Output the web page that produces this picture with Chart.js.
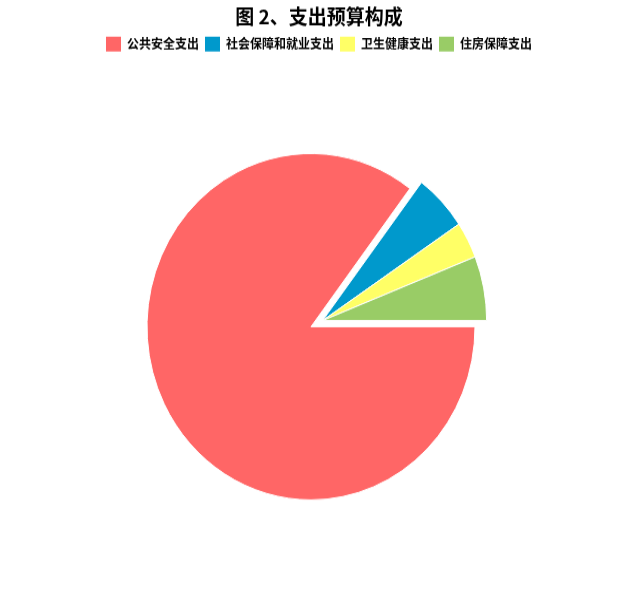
<!DOCTYPE html>
<html lang="zh">
<head>
<meta charset="utf-8">
<title>图 2、支出预算构成</title>
<script src="https://cdn.jsdelivr.net/npm/chart.js@4.4.1/dist/chart.umd.min.js"></script>
<style>
    html, body { margin: 0; padding: 0; background: #fff; overflow: hidden; }
    /* the reference is drawn slightly taller than wide, so stretch the canvas */
    #wrap { position: relative; width: 638px; height: 572px; transform: scaleY(1.0559); transform-origin: 0 0; }
</style>
</head>
<body>
<div id="wrap"><canvas id="chart"></canvas></div>
<script>
    // 数据
    const categories = ['公共安全支出', '社会保障和就业支出', '卫生健康支出', '住房保障支出'];
    const budgetShare = [85.3, 5.3, 3.4, 6.0];
    const sliceColors = ['#ff6666', '#0099cc', '#ffff66', '#99cc66'];
    const explodedSlices = [1, 2, 3];

    const FONT = '"Noto Sans CJK SC", "Noto Sans", sans-serif';

    // empty box on the right so the pie sits a little left of the title
    const rightGutter = {
        id: 'rightGutter',
        beforeInit(chart) {
            Chart.layouts.addBox(chart, {
                position: 'right', weight: 0, fullSize: false, options: {},
                width: 0, height: 0, left: 0, top: 0, right: 0, bottom: 0,
                isHorizontal() { return false; },
                update(maxWidth, maxHeight) { this.width = 16; this.height = maxHeight; },
                draw() {}
            });
        }
    };

    // pull the selected slices out together, along the bisector of the group
    const explodeGroup = {
        id: 'explodeGroup',
        afterDatasetsUpdate(chart, args, opts) {
            const arcs = chart.getDatasetMeta(0).data;
            const picked = opts.indices.map(i => arcs[i]).filter(Boolean);
            if (!picked.length) return;
            const start = Math.min(...picked.map(a => a.startAngle));
            const end = Math.max(...picked.map(a => a.endAngle));
            const mid = (start + end) / 2;
            picked.forEach(a => {
                a.x += Math.cos(mid) * opts.distance;
                a.y += Math.sin(mid) * opts.distance;
            });
        }
    };

    Chart.defaults.font.family = FONT;
    Chart.defaults.color = '#000';

    const ctx = document.getElementById('chart').getContext('2d');
    new Chart(ctx, {
        type: 'pie',
        data: {
            labels: categories,
            datasets: [{
                data: budgetShare,
                backgroundColor: sliceColors,
                borderColor: '#fff',
                borderWidth: 1
            }]
        },
        options: {
            responsive: true,
            maintainAspectRatio: false,
            animation: false,
            rotation: 90,
            radius: 164,
            layout: { padding: { bottom: 12 } },
            plugins: {
                title: {
                    display: true,
                    text: '图 2、支出预算构成',
                    font: { size: 19, weight: 'bold', family: FONT },
                    padding: { top: 4, bottom: 2 }
                },
                legend: {
                    position: 'top',
                    labels: {
                        boxWidth: 15,
                        boxHeight: 14,
                        padding: 6,
                        font: { size: 12, weight: 'bold', family: FONT },
                        generateLabels(chart) {
                            return Chart.overrides.pie.plugins.legend.labels.generateLabels(chart)
                                .map(l => ({ ...l, lineWidth: 0 }));
                        }
                    }
                },
                tooltip: { enabled: true },
                explodeGroup: { indices: explodedSlices, distance: 13 }
            }
        },
        plugins: [rightGutter, explodeGroup]
    });
</script>
</body>
</html>
